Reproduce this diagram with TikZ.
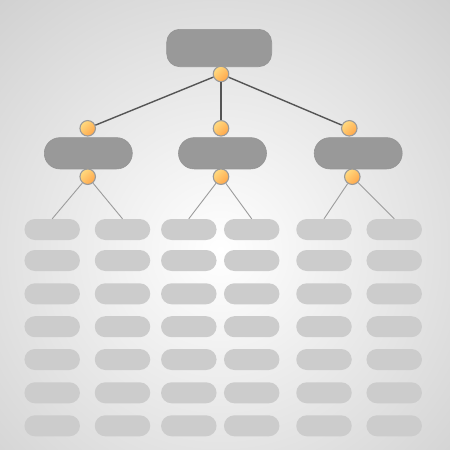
\documentclass[tikz,border=0pt]{standalone}
\definecolor{bgout}{HTML}{D0D0D0}
\definecolor{boxfill}{HTML}{999999}
\definecolor{boxedge}{HTML}{949494}
\definecolor{leaffill}{HTML}{CCCCCC}
\definecolor{jlight}{HTML}{FFDA80}
\definecolor{jdark}{HTML}{FFA64A}
\definecolor{jointedge}{HTML}{9A9A9A}
\definecolor{mainline}{HTML}{555555}
\definecolor{subline}{HTML}{9C9C9C}
\tikzset{
  topbox/.style={draw=boxedge, line width=0.6pt, fill=boxfill, minimum width=105pt, minimum height=37.4pt, rounded corners=13pt, inner sep=0pt},
  midbox/.style={draw=boxedge, line width=0.6pt, fill=boxfill, minimum width=88pt, minimum height=31.3pt, rounded corners=15.6pt, inner sep=0pt},
  leafbox/.style={fill=leaffill, minimum width=55.5pt, minimum height=21pt, rounded corners=10.5pt, inner sep=0pt},
  joint/.style={circle, draw=jointedge, line width=1.1pt, top color=jlight, bottom color=jdark, shading angle=45, minimum size=15.5pt, inner sep=0pt},
  mainconn/.style={draw=mainline, line width=1.4pt},
  subconn/.style={draw=subline, line width=0.9pt}
}
\begin{document}
\begin{tikzpicture}[x=1pt, y=-1pt]
  \useasboundingbox (0,0) rectangle (450,450);
  \begin{scope}
    \clip (0,0) rectangle (450,450);
    \shade[inner color=white, outer color=bgout] (220,250) circle (340);
  \end{scope}

  % top level
  \node[topbox] (top) at (219.2,48) {};
  \node[joint] (tj) at (221,74) {};

  % middle level
  \node[midbox] (m1) at (88.3,153.3) {};
  \node[midbox] (m2) at (222.5,153.3) {};
  \node[midbox] (m3) at (358.2,153.3) {};

  % leaves
  \foreach \c/\x in {1/52.2, 2/122.5, 3/188.8, 4/251.7, 5/324, 6/394.2} {
    \foreach \r/\y in {1/229.5, 2/260.5, 3/293.8, 4/326.7, 5/359.5, 6/392.8, 7/425.8} {
      \node[leafbox] (leaf-\c-\r) at (\x,\y) {};
    }
  }

  % joints
  \node[joint] (a1) at (87.7,128.3) {};
  \node[joint] (a2) at (221,128.3) {};
  \node[joint] (a3) at (349.3,128.3) {};
  \node[joint] (b1) at (87.7,176.7) {};
  \node[joint] (b2) at (221,176.7) {};
  \node[joint] (b3) at (352.3,176.7) {};

  % connectors
  \draw[mainconn] (tj) -- (a1);
  \draw[mainconn] (tj) -- (a2);
  \draw[mainconn] (tj) -- (a3);
  \draw[subconn] (b1) -- (leaf-1-1.north);
  \draw[subconn] (b1) -- (leaf-2-1.north);
  \draw[subconn] (b2) -- (leaf-3-1.north);
  \draw[subconn] (b2) -- (leaf-4-1.north);
  \draw[subconn] (b3) -- (leaf-5-1.north);
  \draw[subconn] (b3) -- (leaf-6-1.north);
\end{tikzpicture}
\end{document}
